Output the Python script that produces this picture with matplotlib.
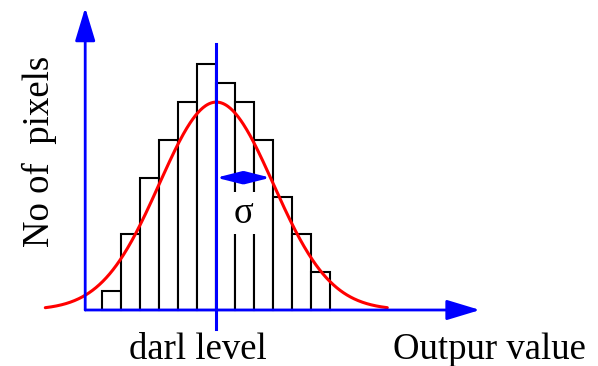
import numpy as np
import matplotlib
matplotlib.use("Agg")
import matplotlib.pyplot as plt
from matplotlib.patches import FancyArrowPatch, Rectangle

# Histogram of pixel counts per output-value bin
counts = [1, 4, 7, 9, 11, 13, 12, 11, 9, 6, 4, 2]
bin_edges = list(range(len(counts) + 1))

# Fitted normal curve
dark_level = 6.0
sigma = 3.0
peak = 11.0
arrow_height = 7.0

x_label = "Outpur value"
y_label = "No of  pixels"
level_label = "darl level"
sigma_label = "σ"

FONT = ["Liberation Serif", "DejaVu Serif"]
BLUE = "#0000ff"
RED = "#ff0000"

fig = plt.figure(figsize=(5.98, 3.66), dpi=100)
ax = fig.add_axes([0, 0, 1, 1])
ax.set_xlim(-102.3 / 19, (598 - 102.3) / 19)
ax.set_ylim((310 - 366) / 18.9, 310 / 18.9)
ax.axis("off")

# histogram bars
ax.bar(bin_edges[:-1], counts, width=1, align="edge", facecolor="white",
       edgecolor="black", linewidth=1.5, zorder=2)

# normal curve over mean ± 3 sigma
xs = np.linspace(dark_level - 3 * sigma, dark_level + 3 * sigma, 400)
ys = peak * np.exp(-(xs - dark_level) ** 2 / (2 * sigma ** 2))
ax.plot(xs, ys, color=RED, linewidth=2.2, zorder=3, solid_capstyle="round")

# axes with arrowheads
y_axis_x = -0.9
axis_style = "-|>,head_length=2.05,head_width=0.62"
ax.add_patch(FancyArrowPatch((y_axis_x, 0), (y_axis_x, 16.0), arrowstyle=axis_style,
                             mutation_scale=10, color=BLUE, linewidth=2.0,
                             joinstyle="round", shrinkA=0, shrinkB=0, zorder=5))
ax.add_patch(FancyArrowPatch((y_axis_x, 0), (19.88, 0), arrowstyle=axis_style,
                             mutation_scale=10, color=BLUE, linewidth=2.0,
                             joinstyle="round", shrinkA=0, shrinkB=0, zorder=5))

# dark level marker
ax.plot([dark_level, dark_level], [-1.0, 14.07], color=BLUE, linewidth=2.2, zorder=5)

# sigma arrow, ending where the curve reaches the arrow height
half_width = sigma * np.sqrt(2 * np.log(peak / arrow_height))
ax.add_patch(FancyArrowPatch((dark_level, arrow_height), (dark_level + half_width, arrow_height),
                             arrowstyle="<|-|>,head_length=1.5,head_width=0.38",
                             mutation_scale=10, color=BLUE, linewidth=2.0,
                             joinstyle="round", shrinkA=0, shrinkB=0, zorder=5))

# sigma label on a white patch that clears the bar lines behind it
sig_x, sig_y = 7.45, 4.62
ax.add_patch(Rectangle((dark_level + 0.25, 4.02), 2.5, 2.24, facecolor="white",
                       edgecolor="none", zorder=2.5))
ax.text(sig_x, sig_y, sigma_label, ha="center", va="baseline", fontsize=26.5,
        family=FONT, zorder=6)

# labels
ax.text(5.02, -2.59, level_label, ha="center", va="baseline", fontsize=26.5, family=FONT)
ax.text(20.4, -2.59, x_label, ha="center", va="baseline", fontsize=26.5, family=FONT)
ax.text((39.5 - 102.3) / 19, (310 - 151.5) / 18.9, y_label, rotation=90,
        ha="center", va="center", fontsize=26.5, family=FONT)

fig.savefig("out.png", dpi=100)
